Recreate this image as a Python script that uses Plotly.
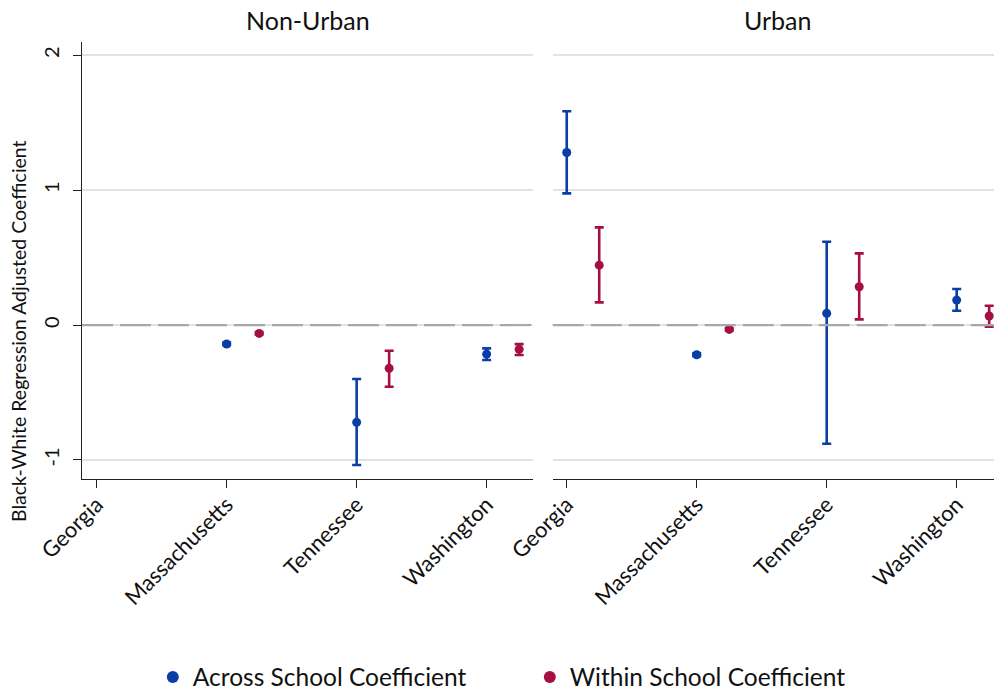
import plotly.graph_objects as go

states = ["Georgia", "Massachusetts", "Tennessee", "Washington"]
panels = ["Non-Urban", "Urban"]

nonurban_across = [None, -0.140, -0.721, -0.215]
nonurban_across_lo = [None, -0.150, -1.037, -0.259]
nonurban_across_hi = [None, -0.130, -0.400, -0.173]
nonurban_within = [None, -0.062, -0.321, -0.180]
nonurban_within_lo = [None, -0.070, -0.457, -0.222]
nonurban_within_hi = [None, -0.054, -0.190, -0.141]

urban_across = [1.279, -0.220, 0.087, 0.185]
urban_across_lo = [0.976, -0.230, -0.880, 0.106]
urban_across_hi = [1.585, -0.210, 0.617, 0.267]
urban_within = [0.444, -0.032, 0.284, 0.067]
urban_within_lo = [0.168, -0.040, 0.042, -0.012]
urban_within_hi = [0.724, -0.024, 0.531, 0.143]

series_names = ["Across School Coefficient", "Within School Coefficient"]
within_offset = 0.25

BLUE = "#0a3ea6"
RED = "#a50f42"
FONT = "Lato"

W, H = 994, 692
ML, MR, MT, MB = 82, 0, 42, 213
PW = W - ML - MR
PH = H - MT - MB

fig = go.Figure()

def add_series(vals, lo, hi, xaxis, yaxis, color, name, offset, showlegend):
    xs, ys, up, dn = [], [], [], []
    for i, v in enumerate(vals):
        if v is None:
            continue
        xs.append(i + 1 + offset)
        ys.append(v)
        up.append(hi[i] - v)
        dn.append(v - lo[i])
    fig.add_trace(go.Scatter(
        x=xs, y=ys, mode="markers", name=name, legendgroup=name,
        showlegend=showlegend, xaxis=xaxis, yaxis=yaxis,
        marker=dict(color=color, size=9, symbol="circle"),
        error_y=dict(type="data", symmetric=False, array=up, arrayminus=dn,
                     color=color, thickness=2.6, width=4.5),
    ))

add_series(nonurban_across, nonurban_across_lo, nonurban_across_hi, "x", "y", BLUE, series_names[0], 0, True)
add_series(nonurban_within, nonurban_within_lo, nonurban_within_hi, "x", "y", RED, series_names[1], within_offset, True)
add_series(urban_across, urban_across_lo, urban_across_hi, "x2", "y2", BLUE, series_names[0], 0, False)
add_series(urban_within, urban_within_lo, urban_within_hi, "x2", "y2", RED, series_names[1], within_offset, False)

left_end = (533.3 - ML) / PW
right_start = (552.7 - ML) / PW

xcommon = dict(
    tickmode="array", tickvals=[1, 2, 3, 4], ticktext=states,
    tickangle=-45, ticks="outside", ticklen=8, tickwidth=1.3, tickcolor="#222",
    showline=True, linecolor="#222", linewidth=1.3, showgrid=False, zeroline=False,
    ticklabelstandoff=-5,
    tickfont=dict(family=FONT, size=22, color="#111"),
)
ycommon = dict(
    range=[-1.141, 2.098], tickmode="array", tickvals=[-1, 0, 1, 2],
    ticktext=["-1", "0", "1", "2"],
    showgrid=True, gridcolor="#e3e3e3", gridwidth=1.6, zeroline=False,
)

fig.update_layout(
    width=W, height=H,
    margin=dict(l=ML, r=MR, t=MT, b=MB),
    paper_bgcolor="white", plot_bgcolor="white",
    font=dict(family=FONT, color="#111"),
    xaxis=dict(domain=[0, left_end], range=[0.887, 4.359], **xcommon),
    xaxis2=dict(domain=[right_start, 1.0], range=[0.892, 4.287], anchor="y2", **xcommon),
    yaxis=dict(domain=[0, 1], showline=True, linecolor="#222", linewidth=1.3,
               ticks="outside", ticklen=8, tickwidth=1.3, tickcolor="#222",
               tickangle=-90, ticklabelstandoff=6,
               tickfont=dict(family=FONT, size=20, color="#111"),
               **ycommon),
    yaxis2=dict(domain=[0, 1], anchor="x2", matches="y", showline=False,
                ticks="", showticklabels=False, **ycommon),
    showlegend=True,
    legend=dict(orientation="h", xref="container", yref="container",
                x=0.533, y=1 - 677 / H, xanchor="center", yanchor="middle",
                font=dict(family=FONT, size=24.5, color="#111"),
                entrywidth=332, itemsizing="constant", bgcolor="rgba(0,0,0,0)"),
)

# dashed zero reference lines
for xr in ["x domain", "x2 domain"]:
    fig.add_shape(type="line", xref=xr, yref="y", x0=0, x1=1, y0=0, y1=0,
                  line=dict(color="#a8a8a8", width=2.2, dash="31px,7px"), layer="above")

# panel titles
for name, cx in zip(panels, [307.5, 778]):
    fig.add_annotation(text=name, xref="paper", yref="paper",
                       x=(cx - ML) / PW, y=1 + (MT - 20) / PH,
                       showarrow=False, xanchor="center", yanchor="middle",
                       font=dict(family=FONT, size=25, color="#111"))

# y axis title
fig.add_annotation(text="Black-White Regression Adjusted Coefficient",
                   xref="paper", yref="paper",
                   x=(18 - ML) / PW, y=1 - (331 - MT) / PH,
                   textangle=-90, showarrow=False, xanchor="center", yanchor="middle",
                   font=dict(family=FONT, size=19.5, color="#111"))

fig.write_html("out.html", config={"displayModeBar": False},
               post_script="document.body.style.margin='0';")
